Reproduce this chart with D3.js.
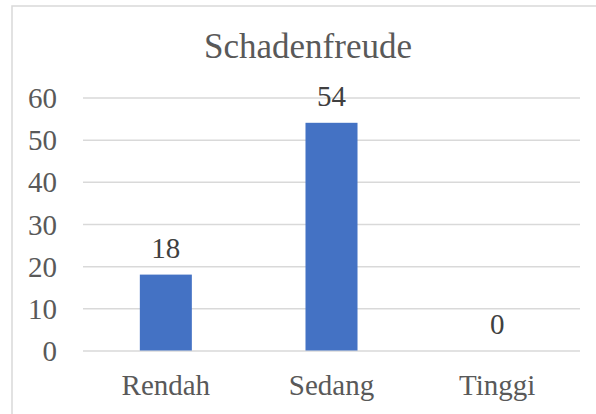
<!DOCTYPE html>
<html>
<head>
	<title>Schadenfreude</title>
	<script src="https://d3js.org/d3.v7.min.js"></script>
	<style>
		body { margin: 0; background: #fff; }
		text { font-family: "Liberation Serif", "Times New Roman", serif; }
	</style>
</head>
<body>
<script>
var categories = ["Rendah", "Sedang", "Tinggi"];
var values = [18, 54, 0];
var yTicks = [0, 10, 20, 30, 40, 50, 60];
var title = "Schadenfreude";

var W = 596, H = 414;
var serif = "'Liberation Serif', 'Times New Roman', serif";
var svg = d3.select("body")
	.append("svg")
	.attr("width", W)
	.attr("height", H);

// chart border (runs off the right and bottom edge in the original)
svg.append("rect")
	.attr("x", 12).attr("y", 6)
	.attr("width", 600).attr("height", 420)
	.attr("fill", "#fff")
	.attr("stroke", "#d9d9d9")
	.attr("stroke-width", 1.5);

// plot area edges (note: "top" is reserved on window, so use other names)
var plotL = 83, plotR = 580, plotT = 97.5, plotB = 350.5;

var x = d3.scaleBand()
	.domain(categories)
	.range([plotL, plotR])
	.paddingInner(0.686)
	.paddingOuter(0.343);

var y = d3.scaleLinear()
	.domain([0, 60])
	.range([plotB, plotT]);

// gridlines + y labels
var yAxis = svg.append("g")
	.attr("transform", "translate(" + plotL + ",0)")
	.call(d3.axisLeft(y).tickValues(yTicks).tickSize(-(plotR - plotL)).tickPadding(26));
yAxis.attr("font-family", serif);
yAxis.select(".domain").remove();
yAxis.selectAll(".tick line")
	.attr("stroke", "#d9d9d9")
	.attr("stroke-width", 1.5);
yAxis.selectAll(".tick text")
	.attr("fill", "#595959")
	.style("font-size", "29px")
	.attr("dy", "0.35em");

// bars
svg.selectAll(".bar")
	.data(values)
	.enter().append("rect")
	.attr("class", "bar")
	.attr("x", function(d, i) { return x(categories[i]); })
	.attr("y", function(d) { return y(d); })
	.attr("width", x.bandwidth())
	.attr("height", function(d) { return plotB - y(d); })
	.attr("fill", "#4472c4");

// data labels
svg.selectAll(".lbl")
	.data(values)
	.enter().append("text")
	.attr("class", "lbl")
	.attr("x", function(d, i) { return x(categories[i]) + x.bandwidth() / 2; })
	.attr("y", function(d) { return y(d) - 16.5; })
	.attr("text-anchor", "middle")
	.attr("fill", "#404040")
	.style("font-size", "29px")
	.text(function(d) { return d; });

// x labels
var xAxis = svg.append("g")
	.attr("transform", "translate(0," + plotB + ")")
	.call(d3.axisBottom(x).tickSize(0).tickPadding(0));
xAxis.attr("font-family", serif);
xAxis.select(".domain").remove();
xAxis.selectAll(".tick text")
	.attr("fill", "#595959")
	.attr("dy", 0)
	.attr("y", 44.5)
	.style("font-size", "29px");

// title
svg.append("text")
	.attr("x", 308)
	.attr("y", 57.7)
	.attr("text-anchor", "middle")
	.attr("fill", "#595959")
	.style("font-size", "35px")
	.text(title);
</script>
</body>
</html>
